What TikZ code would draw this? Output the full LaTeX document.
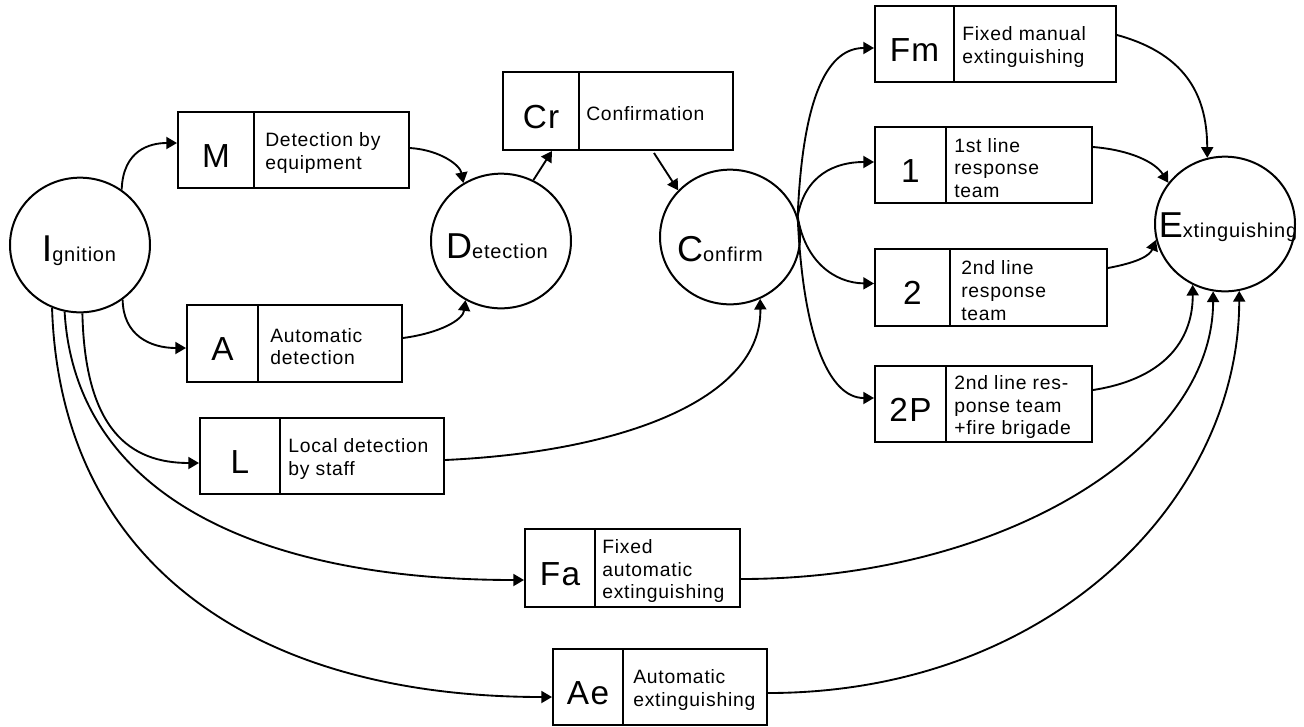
\documentclass[tikz,border=0pt]{standalone}
\usepackage{fontspec}
\setmainfont{Liberation Sans}[LetterSpace=4]
\usetikzlibrary{shapes.geometric,arrows.meta,fit,calc}
\tikzset{
  box/.style={draw, line width=1.5pt, inner sep=0pt, rectangle},
  circ/.style={draw, ellipse, line width=1.5pt, inner sep=0pt, minimum width=105pt, minimum height=101pt},
  bigl/.style={font=\fontsize{25}{25}\selectfont, inner sep=0pt},
  desc/.style={font=\fontsize{14.5}{17}\selectfont, align=left, inner sep=0pt},
  ctext/.style={inner sep=0pt, anchor=base},
  arr/.style={line width=1.4pt, -{Triangle[length=8pt,width=9pt]}},
  con/.style={line width=1.4pt}
}
% name, x1, y1, x2, y2, divider, letter, text, text offset
\newcommand\procbox[9]{%
  \node[box, fit={(#2,#3)(#4,#5)}] (#1) {};
  \draw[line width=1.5pt] (#6,#3) -- (#6,#5);
  \node[bigl, anchor=base] (#1-l) at ({(#2+#6)/2}, {(#3+#5)/2+17}) {#7};
  \node[desc, anchor=west] (#1-t) at ({#6+#9}, {(#3+#5)/2+3}) {#8};
}
\newcommand\bigc[1]{{\fontsize{27}{27}\selectfont #1}\fontsize{15}{15}\selectfont}
\begin{document}
\begin{tikzpicture}[x=0.75pt,y=-0.75pt]
\fill[white] (0,0) rectangle (1304,726);
\useasboundingbox (0,0) rectangle (1304,726);

% circles
\node[circ] (I) at (80,245) {};
\node[circ] (D) at (501,241) {};
\node[circ] (C) at (730,237) {};
\node[circ] (E) at (1225,224) {};
\node[ctext] (I-t) at (79,261) {{\fontsize{28}{28}\selectfont I}\fontsize{15}{15}\selectfont gnition};
\node[ctext] (D-t) at (497,258) {\bigc{D}etection};
\node[ctext] (C-t) at (720,261) {\bigc{C}onfirm};
\node[ctext] (E-t) at (1228,237) {\bigc{E}xtinguishing};

% boxes
\procbox{M}{178}{112}{409}{188}{254}{M}{Detection by\\equipment}{11}
\procbox{A}{187}{305}{402}{382}{258}{A}{Automatic\\detection}{12}
\procbox{L}{200}{418}{444}{494}{280}{L}{Local detection\\by staff}{8}
\procbox{Cr}{503}{72}{733}{150}{579}{Cr}{Confirmation}{7}
\procbox{Fa}{525}{529}{740}{607}{595}{Fa}{Fixed\\automatic\\extinguishing}{7}
\procbox{Ae}{553}{649}{767}{725}{623}{Ae}{Automatic\\extinguishing}{10}
\procbox{Fm}{875}{6}{1116}{82}{954}{Fm}{Fixed manual\\extinguishing}{8}
\procbox{one}{875}{127}{1092}{203}{946}{1}{1st line\\response\\team}{8}
\procbox{two}{875}{249}{1107}{326}{950}{2}{2nd line\\response\\team}{11}
\procbox{twoP}{875}{366}{1092}{442}{946}{2P}{2nd line res-\\ponse team\\+fire brigade}{8}

% ignition outputs
\draw[arr] (I.53) .. controls (123,150) and (150,143) .. ($(M.west)+(0,-7)$);
\draw[arr] (I.-52) .. controls (123,335) and (150,348) .. ($(A.west)+(0,4.5)$);
\draw[arr] (I.-88) .. controls (85,430) and (130,463) .. ($(L.west)+(0,7)$);
\draw[arr] (I.-103) .. controls (75,490) and (250,580) .. ($(Fa.west)+(0,12)$);
\draw[arr] (I.-114) .. controls (60,560) and (250,697) .. ($(Ae.west)+(0,10)$);

% detection
\draw[arr] ($(M.east)+(0,-2)$) .. controls (440,150) and (460,165) .. (D.123);
\draw[arr] ($(A.east)+(0,-5.5)$) .. controls (440,333) and (463,320) .. (D.-121);
\draw[arr] (D.62) -- ($(Cr.south west)+(50,0)$);
\draw[arr] ($(Cr.south west)+(152,2)$) -- (C.138);
\draw[arr] ($(L.east)+(0,4)$) .. controls (620,452) and (762,400) .. (C.-64);

% confirm outputs
\draw[arr] (C.17) .. controls (803,90) and (830,48) .. ($(Fm.west)+(0,4)$);
\draw[arr] (C.17) .. controls (805,175) and (835,162) .. ($(one.west)+(0,-3)$);
\draw[arr] (C.17) .. controls (805,262) and (835,283) .. ($(two.west)+(0,-4)$);
\draw[arr] (C.17) .. controls (803,340) and (830,398) .. ($(twoP.west)+(0,-6)$);

% to extinguishing
\draw[arr] ($(Fm.east)+(0,-9)$) .. controls (1190,55) and (1207,100) .. (E.105);
\draw[arr] ($(one.east)+(0,-18)$) .. controls (1130,150) and (1155,162) .. (E.144);
\draw[arr] ($(two.east)+(0,-19.5)$) .. controls (1140,262) and (1150,255) .. (E.-167);
\draw[arr] ($(twoP.east)+(0,-14)$) .. controls (1170,378) and (1193,335) .. (E.-118);
\draw[arr] ($(Fa.east)+(0,11)$) .. controls (1000,579) and (1213,450) .. (E.-100);
\draw[arr] ($(Ae.east)+(0,6)$) .. controls (1050,693) and (1239,500) .. (E.-78);
\end{tikzpicture}
\end{document}
